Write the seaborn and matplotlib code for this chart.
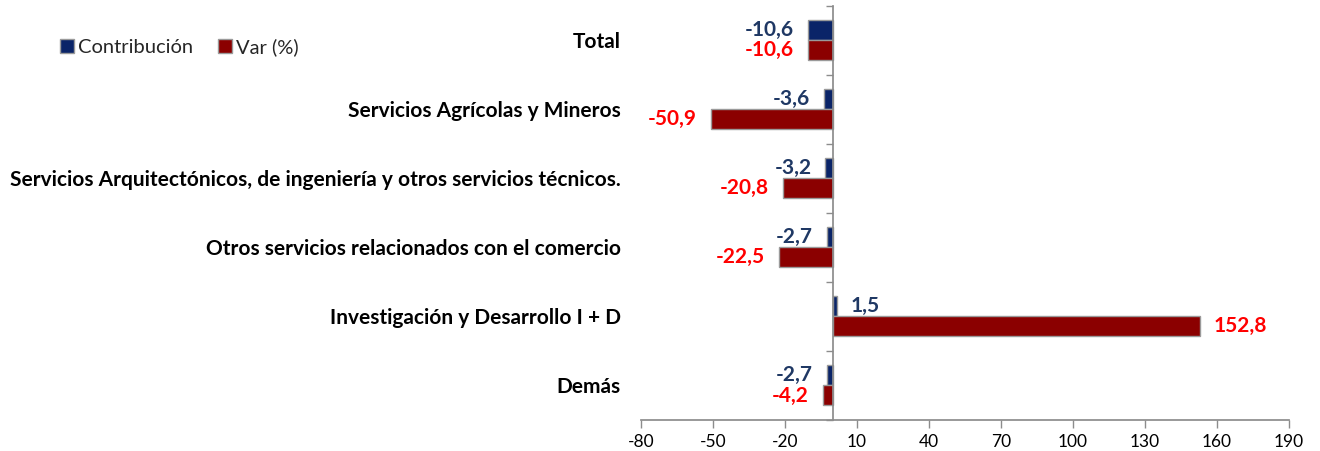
import matplotlib
matplotlib.use("Agg")
import matplotlib.pyplot as plt
from matplotlib.patches import Patch
from matplotlib.ticker import FixedLocator
import seaborn as sns
import pandas as pd

categories = [
    "Total",
    "Servicios Agrícolas y Mineros",
    "Servicios Arquitectónicos, de ingeniería y otros servicios técnicos.",
    "Otros servicios relacionados con el comercio",
    "Investigación y Desarrollo I + D",
    "Demás",
]
contribucion = [-10.6, -3.6, -3.2, -2.7, 1.5, -2.7]
variacion = [-10.6, -50.9, -20.8, -22.5, 152.8, -4.2]
series_names = ["Contribución", "Var (%)"]
x_ticks = [-80, -50, -20, 10, 40, 70, 100, 130, 160, 190]

bar_colors = ["#0a2468", "#8b0000"]
label_colors = ["#1f3864", "#ff0000"]

df = pd.DataFrame({
    "categoria": categories * 2,
    "serie": [series_names[0]] * len(categories) + [series_names[1]] * len(categories),
    "valor": contribucion + variacion,
})

sns.set_theme(style="white")
plt.rcParams["font.family"] = ["Lato", "DejaVu Sans"]

fig = plt.figure(figsize=(13.2, 4.51), dpi=100)
ax = fig.add_axes([641 / 1320, 1 - 420 / 451, 648 / 1320, 414.5 / 451])

sns.barplot(
    data=df, y="categoria", x="valor", hue="serie", order=categories,
    hue_order=series_names, palette=bar_colors, saturation=1, orient="h", width=0.58,
    edgecolor="#9a9a9a", linewidth=1.0, ax=ax, legend=False,
)

# value labels beside each bar, decimal comma
for cont, col in zip(ax.containers, label_colors):
    vals = [r.get_width() for r in cont]
    ax.bar_label(cont, labels=[f"{v:.1f}".replace(".", ",") for v in vals],
                 padding=10, color=col, fontsize=15, fontweight="bold")

ax.set_xlim(-80, 190)
ax.set_ylim(len(categories) - 0.5, -0.5)
ax.set_xlabel("")
ax.set_ylabel("")
ax.set_xticks(x_ticks)
ax.set_xticklabels([str(t) for t in x_ticks], fontsize=12.5, color="black")

for s in ["top", "right"]:
    ax.spines[s].set_visible(False)
ax.spines["bottom"].set_color("#8c8c8c")
ax.spines["left"].set_color("#8c8c8c")
ax.spines["left"].set_position(("data", 0))

ax.tick_params(axis="x", direction="out", length=6, color="#8c8c8c", width=1, pad=4, bottom=True)
ax.tick_params(axis="y", which="major", length=0, pad=153)
ax.yaxis.set_minor_locator(FixedLocator([i - 0.5 for i in range(len(categories) + 1)]))
ax.tick_params(axis="y", which="minor", direction="out", length=5, color="#8c8c8c", width=1, left=True)
for lab in ax.get_yticklabels():
    lab.set_fontweight("bold")
    lab.set_fontsize(15)
    lab.set_color("black")

handles = [Patch(facecolor=c, edgecolor="#9a9a9a", label=n) for c, n in zip(bar_colors, series_names)]
fig.legend(handles=handles, loc="upper left", bbox_to_anchor=(0.032, 0.955), ncol=2,
           frameon=False, fontsize=14.5, handlelength=0.7, handleheight=0.7,
           handletextpad=0.2, columnspacing=1.2)

fig.savefig("out.png", dpi=100)
